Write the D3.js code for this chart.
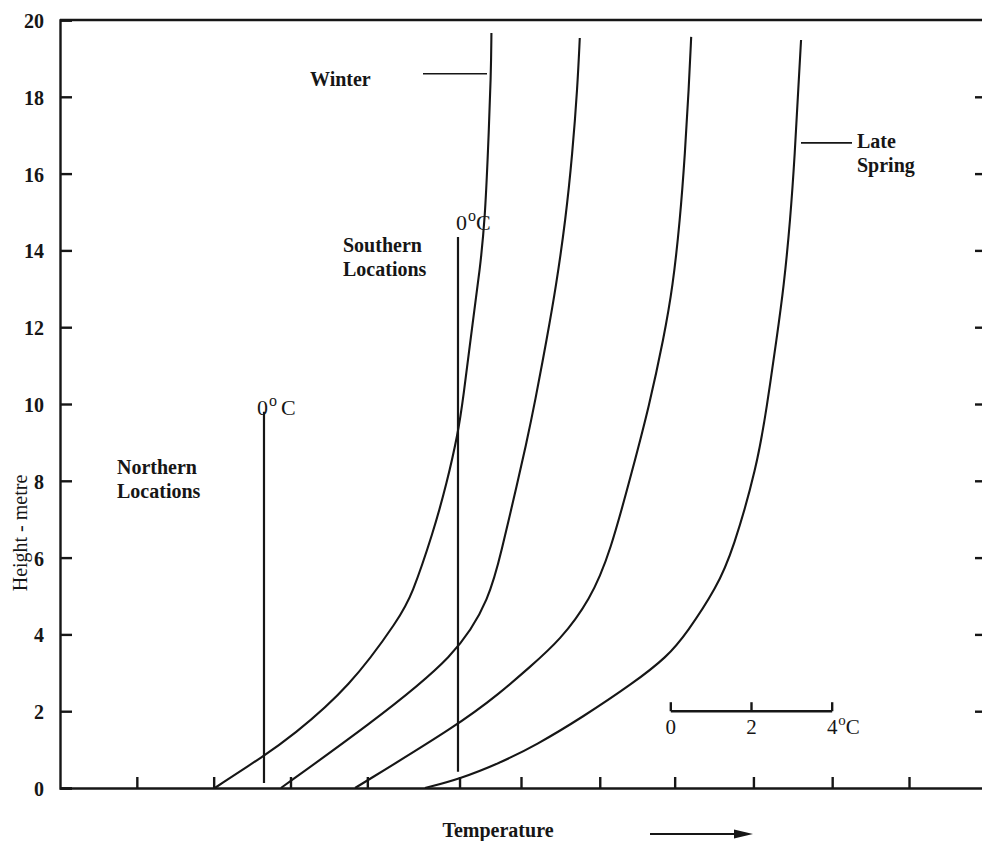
<!DOCTYPE html>
<html lang="en">

<head>
    <meta charset="UTF-8">
    <title>Height vs Temperature</title>
    <script type="text/javascript" src="https://cdnjs.cloudflare.com/ajax/libs/d3/7.8.5/d3.min.js"></script>
    <style>
        body { margin: 0; background: #fff; }
        svg { display: block; }
    </style>
</head>

<body>
    <div id="draw-here"></div>

    <script>
        var w = 982;
        var h = 841;

        // curves: temperature (axis units, 2 units per tick) against height in metres
        var winterTemp = [4.03, 5.34, 6.0, 7.55, 8.85, 9.15, 9.71, 10.07, 10.36, 10.49, 10.75, 10.93, 11.06, 11.14, 11.22, 11.23];
        var winterHeight = [0, 0.86, 1.32, 2.63, 4.45, 5.0, 6.64, 7.94, 9.24, 10.10, 12.19, 13.49, 14.79, 16.54, 18.62, 19.66];

        var curve2Temp = [5.75, 7.99, 10.36, 11.19, 11.48, 11.92, 12.14, 12.36, 12.68, 12.91, 13.16, 13.34, 13.47, 13.53];
        var curve2Height = [0, 1.61, 3.46, 4.97, 6.12, 8.0, 8.98, 10.03, 11.74, 13.05, 14.79, 16.54, 18.26, 19.53];

        var curve3Temp = [7.68, 10.36, 11.45, 12.23, 13.02, 13.80, 14.32, 14.92, 15.33, 15.72, 15.95, 16.14, 16.27, 16.37, 16.43];
        var curve3Height = [0, 1.64, 2.47, 3.15, 3.85, 4.90, 6.12, 8.36, 9.92, 11.74, 13.05, 14.79, 16.54, 18.26, 19.56];

        var springTemp = [9.50, 10.39, 11.45, 12.40, 13.61, 14.92, 15.80, 16.32, 17.10, 17.52, 18.14, 18.40, 18.66, 18.84, 19.01, 19.13, 19.22, 19.29];
        var springHeight = [0, 0.23, 0.65, 1.12, 1.85, 2.73, 3.41, 4.04, 5.23, 6.20, 8.36, 9.92, 11.74, 13.05, 14.79, 16.54, 18.26, 19.48];

        // 0 deg C markers (northern, southern)
        var zeroTemps = [5.31, 10.36];
        var zeroBottoms = [0.13, 0.42];
        var zeroTops = [9.8, 14.35];

        var yTicks = [0, 2, 4, 6, 8, 10, 12, 14, 16, 18, 20];
        var xTicks = [2, 4, 6, 8, 10.4, 12, 14.05, 16, 18.05, 20.1, 22.1];

        // little temperature scale bar
        var barTicks = [15.9, 18.0, 20.1];
        var barLabels = ["0", "2", "4"];
        var barHeight = 2;

        var x = d3.scaleLinear().domain([0, 24]).range([60, 982]);
        var y = d3.scaleLinear().domain([0, 20]).range([788, 20]);

        var ink = "#161616";
        var serif = "'Liberation Serif', 'DejaVu Serif', serif";

        var svg = d3.select("#draw-here")
            .append("svg")
            .attr("width", w)
            .attr("height", h)
            .attr("font-family", serif)
            .attr("fill", ink);

        svg.append("rect").attr("width", w).attr("height", h).attr("fill", "#fff");

        // left axis
        var left = svg.append("g")
            .attr("transform", "translate(" + x(0) + ",0)")
            .call(d3.axisRight(y).tickValues(yTicks).tickSize(12).tickFormat(""));
        left.select(".domain").attr("stroke", ink).attr("stroke-width", 2.4);
        left.selectAll(".tick line").attr("stroke", ink).attr("stroke-width", 2.4);

        svg.selectAll(".ylab")
            .data(yTicks)
            .enter()
            .append("text")
            .attr("class", "ylab")
            .attr("x", 44)
            .attr("y", function(d) { return y(d) + 8; })
            .attr("text-anchor", "end")
            .attr("font-size", "20px")
            .attr("font-weight", "bold")
            .text(function(d) { return d; });

        // right ticks only
        var right = svg.append("g")
            .attr("transform", "translate(" + 982 + ",0)")
            .call(d3.axisLeft(y).tickValues(yTicks.slice(1, 10)).tickSize(7).tickFormat(""));
        right.select(".domain").remove();
        right.selectAll(".tick line").attr("stroke", ink).attr("stroke-width", 2.4);

        // bottom axis, ticks pointing up
        var bottom = svg.append("g")
            .attr("transform", "translate(0," + y(0) + ")")
            .call(d3.axisTop(x).tickValues(xTicks).tickSize(11).tickFormat("").tickSizeOuter(0));
        bottom.select(".domain").attr("stroke", ink).attr("stroke-width", 2.4);
        bottom.selectAll(".tick line").attr("stroke", ink).attr("stroke-width", 2.4);

        // top frame line
        svg.append("line")
            .attr("x1", x(0)).attr("x2", x(24))
            .attr("y1", y(20)).attr("y2", y(20))
            .attr("stroke", ink).attr("stroke-width", 2.4);

        // 0 deg C verticals
        svg.selectAll(".zero")
            .data(zeroTemps)
            .enter()
            .append("line")
            .attr("class", "zero")
            .attr("x1", function(d) { return x(d); })
            .attr("x2", function(d) { return x(d); })
            .attr("y1", function(d, i) { return y(zeroBottoms[i]); })
            .attr("y2", function(d, i) { return y(zeroTops[i]); })
            .attr("stroke", ink)
            .attr("stroke-width", 2.2);

        // the four profiles
        var curves = [
            [winterTemp, winterHeight],
            [curve2Temp, curve2Height],
            [curve3Temp, curve3Height],
            [springTemp, springHeight]
        ];
        var line = d3.line()
            .x(function(d) { return x(d[0]); })
            .y(function(d) { return y(d[1]); })
            .curve(d3.curveBasis);

        svg.selectAll(".profile")
            .data(curves)
            .enter()
            .append("path")
            .attr("class", "profile")
            .attr("d", function(c) { return line(d3.zip(c[0], c[1])); })
            .attr("fill", "none")
            .attr("stroke", ink)
            .attr("stroke-width", 2.1);

        // leader lines for Winter / Late Spring
        svg.append("line")
            .attr("x1", 423).attr("x2", 487)
            .attr("y1", y(18.6)).attr("y2", y(18.6))
            .attr("stroke", ink).attr("stroke-width", 1.6);
        svg.append("line")
            .attr("x1", 801).attr("x2", 852)
            .attr("y1", y(16.8)).attr("y2", y(16.8))
            .attr("stroke", ink).attr("stroke-width", 1.6);

        function label(px, py, lines, bold) {
            var t = svg.append("text")
                .attr("x", px)
                .attr("y", py)
                .attr("font-size", "20px")
                .attr("font-weight", bold ? "bold" : "normal");
            lines.forEach(function(s, i) {
                t.append("tspan").attr("x", px).attr("dy", i === 0 ? 0 : 24).text(s);
            });
            return t;
        }

        label(310, 86, ["Winter"], true);
        label(857, 148, ["Late", "Spring"], true);
        label(343, 252, ["Southern", "Locations"], true);
        label(117, 474, ["Northern", "Locations"], true);

        function degree(px, py, gap) {
            var t = svg.append("text")
                .attr("x", px)
                .attr("y", py)
                .attr("font-size", "22px");
            t.append("tspan").text("0");
            t.append("tspan").attr("font-size", "16px").attr("dy", -9).attr("dx", 1).text("o");
            t.append("tspan").attr("dy", 9).attr("dx", gap).text("C");
        }
        degree(257, 415, 4);
        degree(456, 230, 0);

        // scale bar
        svg.append("line")
            .attr("x1", x(barTicks[0])).attr("x2", x(barTicks[2]))
            .attr("y1", y(barHeight)).attr("y2", y(barHeight))
            .attr("stroke", ink).attr("stroke-width", 2.4);
        svg.selectAll(".btick")
            .data(barTicks)
            .enter()
            .append("line")
            .attr("x1", function(d) { return x(d); })
            .attr("x2", function(d) { return x(d); })
            .attr("y1", y(barHeight))
            .attr("y2", y(barHeight) - 9)
            .attr("stroke", ink)
            .attr("stroke-width", 2.4);
        svg.selectAll(".blab")
            .data(barTicks)
            .enter()
            .append("text")
            .attr("x", function(d) { return x(d); })
            .attr("y", y(barHeight) + 23)
            .attr("text-anchor", "middle")
            .attr("font-size", "21px")
            .text(function(d, i) { return barLabels[i]; });
        var deg = svg.append("text")
            .attr("x", x(barTicks[2]) + 6)
            .attr("y", y(barHeight) + 23)
            .attr("font-size", "21px");
        deg.append("tspan").attr("font-size", "15px").attr("dy", -9).text("o");
        deg.append("tspan").attr("dy", 9).text("C");

        // axis titles
        svg.append("text")
            .attr("transform", "translate(27,533) rotate(-90)")
            .attr("text-anchor", "middle")
            .attr("font-size", "20px")
            .text("Height - metre");

        svg.append("text")
            .attr("x", 498)
            .attr("y", 837)
            .attr("text-anchor", "middle")
            .attr("font-size", "20px")
            .attr("font-weight", "bold")
            .text("Temperature");

        // arrow
        svg.append("line")
            .attr("x1", 650).attr("x2", 738)
            .attr("y1", 834).attr("y2", 834)
            .attr("stroke", ink).attr("stroke-width", 2);
        svg.append("path")
            .attr("d", "M734,829.5 L753,834 L734,838.5 Z")
            .attr("fill", ink);
    </script>
</body>

</html>
